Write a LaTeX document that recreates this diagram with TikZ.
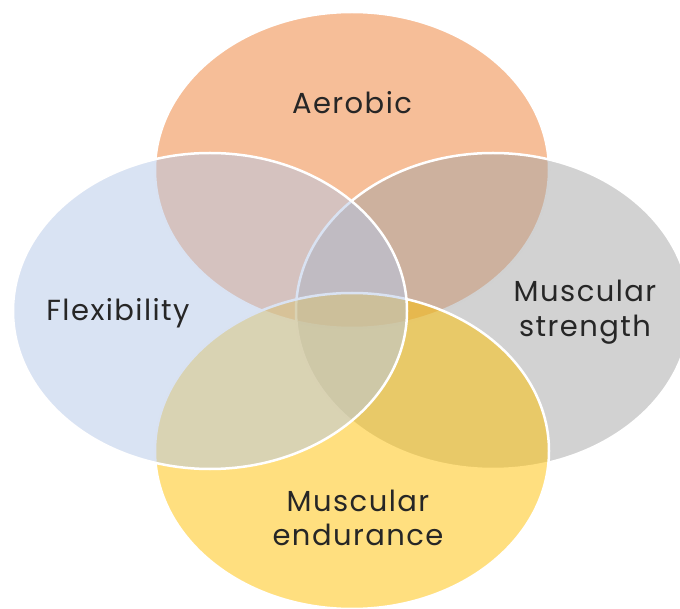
\documentclass[tikz,border=0pt]{standalone}
\usepackage{fontspec}
\setmainfont{Poppins}[LetterSpace=5]
\usetikzlibrary{shapes.geometric}
\definecolor{cOrange}{HTML}{ED7D31}
\definecolor{cGray}{HTML}{A5A5A5}
\definecolor{cGold}{HTML}{FFC000}
\definecolor{cBlue}{HTML}{B4C7E7}
\definecolor{cText}{HTML}{262626}
\tikzset{
  venn/.style={ellipse, minimum width=394pt, minimum height=316pt, inner sep=0pt,
    draw=white, line width=2.5pt, fill opacity=0.5, draw opacity=1},
  lbl/.style={text=cText, font=\fontsize{29}{34.5}\selectfont, align=center, inner sep=0pt}
}
\begin{document}
\begin{tikzpicture}[x=1pt,y=-1pt]
\useasboundingbox (0,0) rectangle (680,609);
\clip (0,0) rectangle (680,609);
\node[venn, fill=cOrange] (aer) at (352,170) {};
\node[venn, fill=cGray] (str) at (493,311) {};
\node[venn, fill=cGold] (end) at (352,451) {};
\node[venn, fill=cBlue] (flx) at (210,311) {};
\node[lbl] (taer) at (352,103) {Aerobic};
\node[lbl] (tstr) at (585,312) {Muscular\\strength};
\node[lbl] (tend) at (358,518) {Muscular\\endurance};
\node[lbl] (tflx) at (118,313) {Flexibility};
\end{tikzpicture}
\end{document}
